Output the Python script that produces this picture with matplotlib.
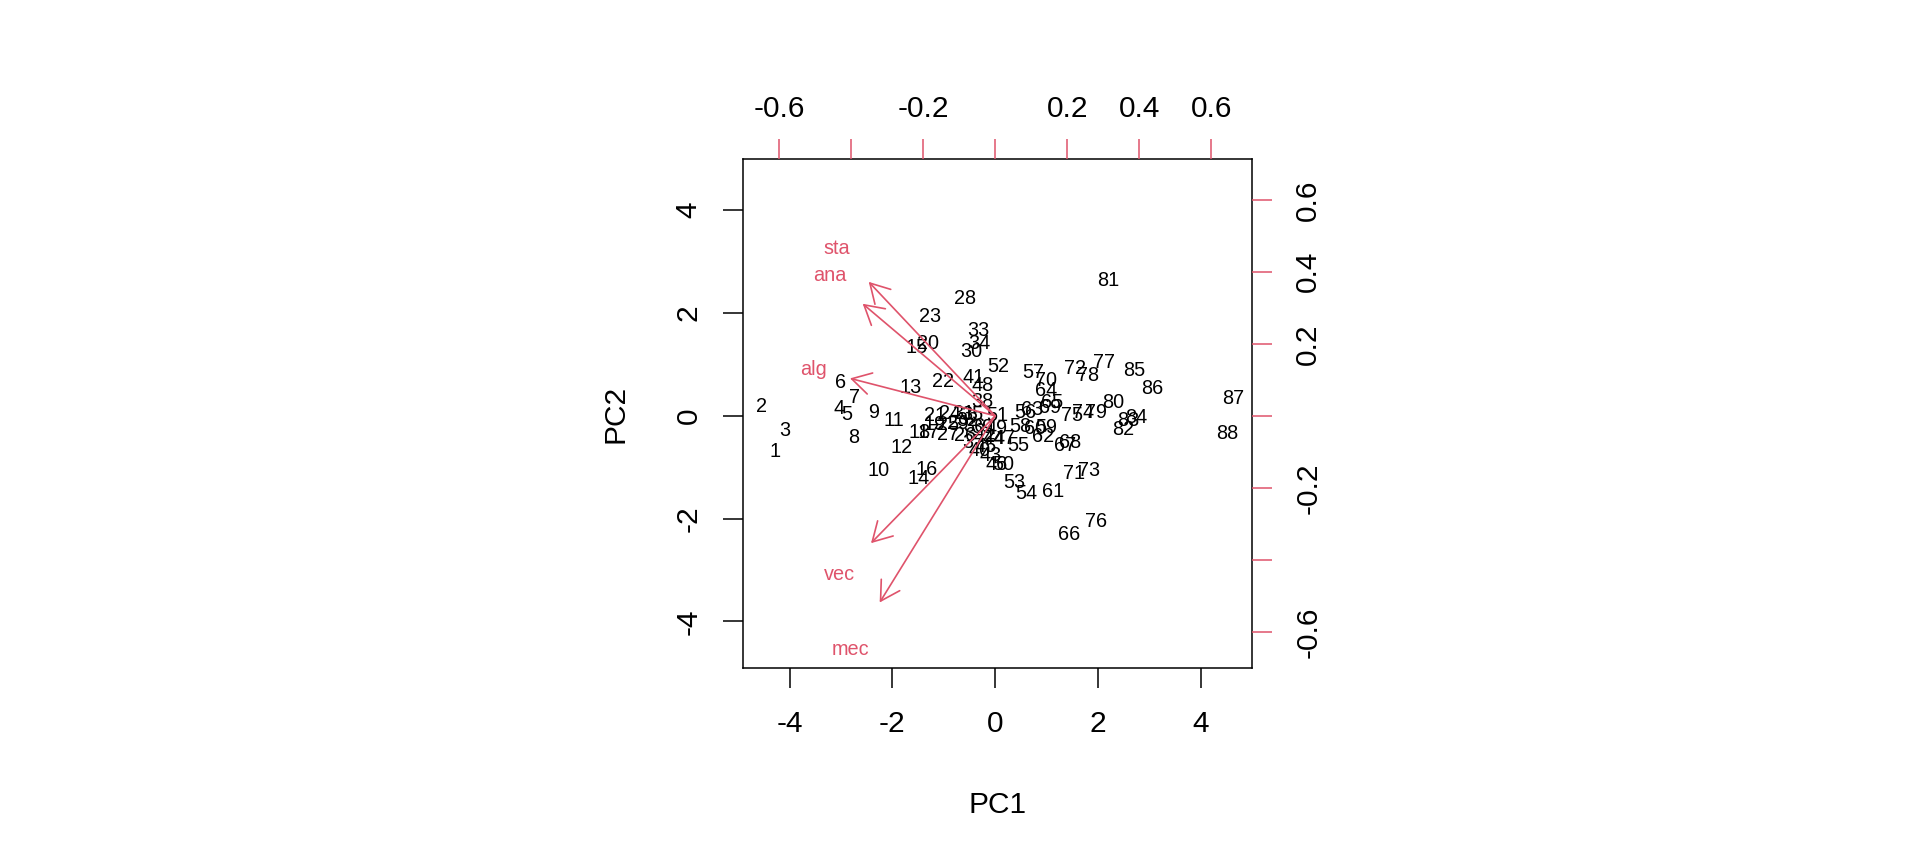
import matplotlib.pyplot as plt
import numpy as np

plt.rcParams['font.family'] = ['Liberation Sans', 'DejaVu Sans']
plt.rcParams['axes.unicode_minus'] = False

# scores (PC1, PC2) for the 88 students --------------------------------------------------------------
students = [str(i) for i in range(1, 89)]
pc1 = [-4.29, -4.54, -4.10, -3.03, -2.89, -3.01, -2.73, -2.75, -2.37, -2.26,
       -1.98, -1.82, -1.65, -1.49, -1.53, -1.33, -1.30, -1.47, -1.17, -1.30,
       -1.17, -1.02, -1.26, -0.88, -0.91, -0.59, -0.91, -0.59, -0.72, -0.46,
       -0.62, -0.55, -0.33, -0.30, -0.45, -0.40, -0.43, -0.25, -0.25, -0.30,
       -0.41, -0.20, -0.09, -0.04, -0.18, 0.03, 0.19, -0.25, 0.02, 0.16,
       0.05, 0.05, 0.37, 0.60, 0.45, 0.58, 0.74, 0.48, 1.00, 0.78,
       1.13, 0.93, 0.72, 0.99, 1.10, 1.44, 1.36, 1.45, 1.06, 0.99,
       1.53, 1.55, 1.83, 1.71, 1.49, 1.96, 2.12, 1.81, 1.97, 2.30,
       2.20, 2.50, 2.59, 2.74, 2.70, 3.06, 4.63, 4.51]
pc2 = [-0.69, 0.18, -0.29, 0.14, 0.02, 0.65, 0.35, -0.43, 0.07, -1.07,
       -0.09, -0.61, 0.55, -1.21, 1.33, -1.05, -0.33, -0.33, -0.16, 1.41,
       0.00, 0.67, 1.94, 0.04, -0.16, -0.38, -0.36, 2.29, -0.14, 1.26,
       0.04, -0.10, 1.66, 1.41, 0.02, -0.20, -0.51, 0.28, -0.22, -0.68,
       0.75, -0.40, -0.77, -0.45, -0.60, -0.95, -0.44, 0.59, -0.24, -0.95,
       0.00, 0.95, -1.30, -1.52, -0.57, 0.07, 0.85, -0.20, -0.23, -0.25,
       -1.47, -0.40, 0.12, 0.49, 0.26, -2.30, -0.58, -0.52, 0.17, 0.69,
       -1.13, 0.93, -1.06, 0.07, 0.00, -2.05, 1.03, 0.78, 0.07, 0.26,
       2.63, -0.27, -0.09, -0.04, 0.88, 0.54, 0.33, -0.35]

# loadings ---------------------------------------------------------------------------------------------
variables = ['mec', 'vec', 'alg', 'ana', 'sta']
load1 = [-0.401, -0.431, -0.504, -0.460, -0.439]
load2 = [-0.648, -0.442, 0.130, 0.389, 0.465]

red = '#DF536B'


def unsigned_range(v):
    return np.array([-abs(min(v)), abs(max(v))])


# same limits logic as R's biplot
rangx = np.array([min(unsigned_range(pc1)[0], unsigned_range(pc2)[0]),
                  max(unsigned_range(pc1)[1], unsigned_range(pc2)[1])])
ratio = max(np.max(unsigned_range(load1) / rangx), np.max(unsigned_range(load2) / rangx))
pad = 0.04 * (rangx[1] - rangx[0])
lim = (rangx[0] - pad, rangx[1] + pad)
lim2 = (lim[0] * ratio, lim[1] * ratio)

fig = plt.figure(figsize=(19.2, 8.64), dpi=100)
pos = [743 / 1920, (864 - 668) / 864, 509 / 1920, 509 / 864]
ax = fig.add_axes(pos)
ax2 = fig.add_axes(pos)

# points
for lab, x, y in zip(students, pc1, pc2):
    ax.text(x, y, lab, ha='center', va='center', fontsize=14.3)
ax.set_xlim(lim)
ax.set_ylim(lim)
ax.set_xticks([-4, -2, 0, 2, 4])
ax.set_yticks([-4, -2, 0, 2, 4])
ax.tick_params(axis='both', direction='out', length=14.4, width=1.1, labelsize=21.5)
ax.tick_params(axis='x', pad=16)
ax.tick_params(axis='y', pad=14.5)
plt.setp(ax.get_yticklabels(), rotation=90, va='center')
for s in ax.spines.values():
    s.set_linewidth(1.1)
ax.set_xlabel('PC1', fontsize=21.5, va='center')
ax.set_ylabel('PC2', fontsize=21.5, va='center')
ax.xaxis.set_label_coords(0.5, -137 / 509)
ax.yaxis.set_label_coords(-128 / 509, 0.5)

# variable arrows on the secondary axes
ax2.patch.set_visible(False)
for s in ax2.spines.values():
    s.set_visible(False)
ax2.set_xlim(lim2)
ax2.set_ylim(lim2)
ax2.xaxis.tick_top()
ax2.yaxis.tick_right()
ticks2 = [-0.6, -0.4, -0.2, 0.0, 0.2, 0.4, 0.6]
ticklabs2 = ['-0.6', '', '-0.2', '', '0.2', '0.4', '0.6']
ax2.set_xticks(ticks2)
ax2.set_xticklabels(ticklabs2)
ax2.set_yticks(ticks2)
ax2.set_yticklabels(ticklabs2)
ax2.tick_params(axis='both', direction='out', length=14.4, width=1.1, color=red,
                labelcolor='black', labelsize=21.5)
ax2.tick_params(axis='x', pad=11.5)
ax2.tick_params(axis='y', pad=16)
plt.setp(ax2.get_yticklabels(), rotation=90, va='center')

for name, lx, ly in zip(variables, load1, load2):
    ax2.text(lx, ly, name, ha='center', va='center', fontsize=14.3, color=red)
    ax2.annotate('', xy=(0.8 * lx, 0.8 * ly), xytext=(0, 0),
                 arrowprops=dict(arrowstyle='->,head_length=0.68,head_width=0.39',
                                 color=red, lw=1.2, shrinkA=0, shrinkB=0,
                                 mutation_scale=20))

fig.savefig('out.png', dpi=100)
